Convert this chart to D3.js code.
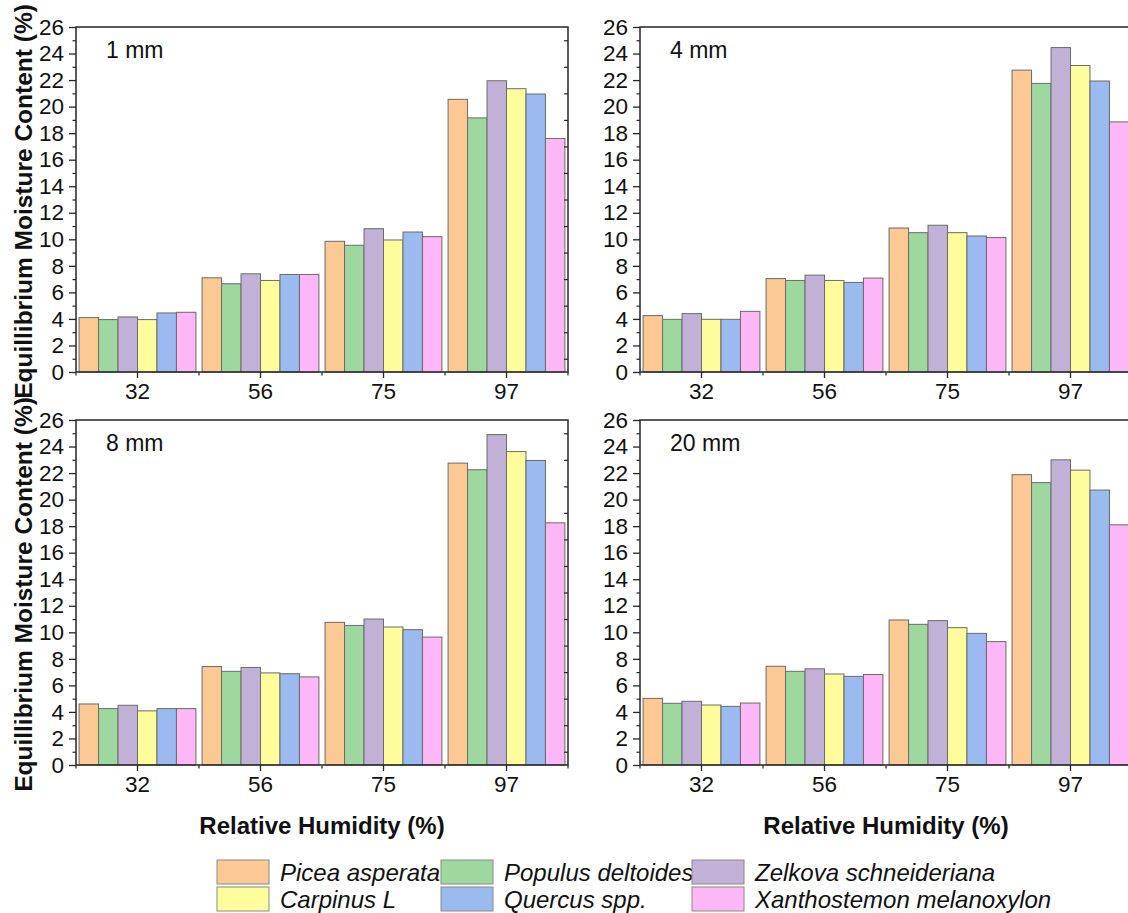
<!DOCTYPE html>
<html>
<head>
<meta charset="utf-8">
<script src="https://cdn.jsdelivr.net/npm/d3@7"></script>
<style>
  html, body { margin: 0; padding: 0; background: #fff; }
  svg { display: block; }
  text { font-family: "Liberation Sans", Arial, sans-serif; }
</style>
</head>
<body>
<svg id="chart" width="1128" height="913"></svg>
<script>
// ---------- data ----------
const categories = ["32", "56", "75", "97"];
const species = ["Picea asperata", "Populus deltoides", "Zelkova schneideriana",
                 "Carpinus L", "Quercus spp.", "Xanthostemon melanoxylon"];
const colors = ["#FCC894", "#9ED89E", "#C2B1D6", "#FFFC9C", "#9ABAF0", "#FDB6F6"];
const panelLabels = ["1 mm", "4 mm", "8 mm", "20 mm"];
const yTicks = [0, 2, 4, 6, 8, 10, 12, 14, 16, 18, 20, 22, 24, 26];

// values[category][species]
const values1mm = [
  [4.1, 3.95, 4.15, 3.95, 4.45, 4.5],
  [7.1, 6.65, 7.4, 6.9, 7.35, 7.35],
  [9.85, 9.55, 10.8, 9.95, 10.55, 10.2],
  [20.55, 19.15, 21.95, 21.35, 20.95, 17.6]
];
const values4mm = [
  [4.25, 3.97, 4.4, 3.97, 3.97, 4.57],
  [7.04, 6.9, 7.3, 6.9, 6.75, 7.08],
  [10.85, 10.5, 11.06, 10.5, 10.25, 10.13],
  [22.75, 21.75, 24.45, 23.1, 21.93, 18.85]
];
const values8mm = [
  [4.6, 4.25, 4.5, 4.08, 4.25, 4.25],
  [7.42, 7.06, 7.35, 6.94, 6.88, 6.64],
  [10.75, 10.52, 11.0, 10.4, 10.2, 9.64],
  [22.75, 22.25, 24.9, 23.62, 22.95, 18.25]
];
const values20mm = [
  [5.02, 4.65, 4.8, 4.52, 4.42, 4.67],
  [7.44, 7.06, 7.25, 6.86, 6.68, 6.82],
  [10.93, 10.6, 10.88, 10.35, 9.92, 9.3],
  [21.88, 21.28, 23.0, 22.22, 20.72, 18.1]
];
const panelData = [values1mm, values4mm, values8mm, values20mm];

// ---------- layout ----------
const svg = d3.select("#chart");
const W = 492, H = 345;
const panels = [
  { x: 76,  y: 27,  yTitle: true,  xTitle: false },
  { x: 640, y: 27,  yTitle: false, xTitle: false },
  { x: 76,  y: 420, yTitle: true,  xTitle: true },
  { x: 640, y: 420, yTitle: false, xTitle: true }
];
const axisColor = "#262626";

const y = d3.scaleLinear().domain([0, 26]).range([H, 0]);
const x0 = d3.scaleBand().domain(categories).range([0, W])
  .paddingInner(0.05).paddingOuter(0.025);
const x1 = d3.scaleBand().domain(species).range([0, x0.bandwidth()]);

panels.forEach((p, pi) => {
  const g = svg.append("g").attr("transform", `translate(${p.x},${p.y})`);
  const data = panelData[pi];

  // bars
  categories.forEach((c, ci) => {
    const gg = g.append("g").attr("transform", `translate(${x0(c)},0)`);
    gg.selectAll("rect").data(species).join("rect")
      .attr("x", s => x1(s))
      .attr("y", (s, si) => y(data[ci][si]))
      .attr("width", x1.bandwidth())
      .attr("height", (s, si) => H - y(data[ci][si]))
      .attr("fill", (s, si) => colors[si])
      .attr("stroke", "#6b6b6b")
      .attr("stroke-width", 1);
  });

  // y axis (major)
  const yAx = g.append("g").call(d3.axisLeft(y).tickValues(yTicks).tickSize(7).tickPadding(5).tickSizeOuter(0));
  yAx.select(".domain").remove();
  yAx.selectAll("line").attr("stroke", axisColor).attr("stroke-width", 1.3);
  yAx.selectAll("text").attr("font-size", 22.5).attr("fill", "#111");
  // y minor
  const minor = d3.range(1, 26, 2);
  const yMin = g.append("g").call(d3.axisLeft(y).tickValues(minor).tickSize(3.5).tickFormat("").tickSizeOuter(0));
  yMin.select(".domain").remove();
  yMin.selectAll("line").attr("stroke", axisColor).attr("stroke-width", 1.2);
  // right mirrored minor ticks (inward)
  const yR = g.append("g").attr("transform", `translate(${W},0)`)
    .call(d3.axisLeft(y).tickValues(minor).tickSize(-0).tickFormat("").tickSizeOuter(0));
  yR.select(".domain").remove();
  yR.selectAll(".tick line").attr("x2", -4).attr("stroke", axisColor).attr("stroke-width", 1.2);

  // x axis
  const xAx = g.append("g").attr("transform", `translate(0,${H})`)
    .call(d3.axisBottom(x0).tickSize(6).tickPadding(5.5).tickSizeOuter(0));
  xAx.select(".domain").remove();
  xAx.selectAll("line").attr("stroke", axisColor).attr("stroke-width", 1.3);
  xAx.selectAll("text").attr("font-size", 22.5).attr("fill", "#111");
  // boundary minor ticks
  const bounds = d3.range(0, categories.length + 1).map(i => i * x0.step());
  g.append("g").selectAll("line").data(bounds).join("line")
    .attr("x1", d => d).attr("x2", d => d)
    .attr("y1", H).attr("y2", H + 3.5)
    .attr("stroke", axisColor).attr("stroke-width", 1.2);

  // frame
  g.append("rect").attr("x", 0).attr("y", 0).attr("width", W).attr("height", H)
    .attr("fill", "none").attr("stroke", axisColor).attr("stroke-width", 1.5);

  // panel label
  g.append("text").attr("x", 30).attr("y", 31)
    .attr("font-size", 23).attr("fill", "#111").text(panelLabels[pi]);

  if (p.yTitle) {
    svg.append("text")
      .attr("transform", `translate(31.5,${p.y + H / 2 + 2}) rotate(-90)`)
      .attr("text-anchor", "middle")
      .attr("font-size", 24.5).attr("font-weight", "bold").attr("fill", "#111")
      .text("Equillibrium Moisture Content (%)");
  }
  if (p.xTitle) {
    svg.append("text")
      .attr("x", p.x + W / 2).attr("y", p.y + H + 69)
      .attr("text-anchor", "middle")
      .attr("font-size", 24).attr("font-weight", "bold").attr("fill", "#111")
      .text("Relative Humidity (%)");
  }
});

// ---------- legend ----------
const legendCols = [217, 441, 692];
const legendRows = [872, 899];
const leg = svg.append("g");
species.forEach((s, i) => {
  const col = i % 3, row = Math.floor(i / 3);
  const lx = legendCols[col], ly = legendRows[row];
  leg.append("rect").attr("x", lx).attr("y", ly - 12).attr("width", 52).attr("height", 24)
    .attr("fill", colors[i]).attr("stroke", "#8a8a8a").attr("stroke-width", 1);
  leg.append("text").attr("x", lx + 63).attr("y", ly + 8.5)
    .attr("font-size", 24).attr("font-style", "italic").attr("fill", "#111").text(s);
});
</script>
</body>
</html>
